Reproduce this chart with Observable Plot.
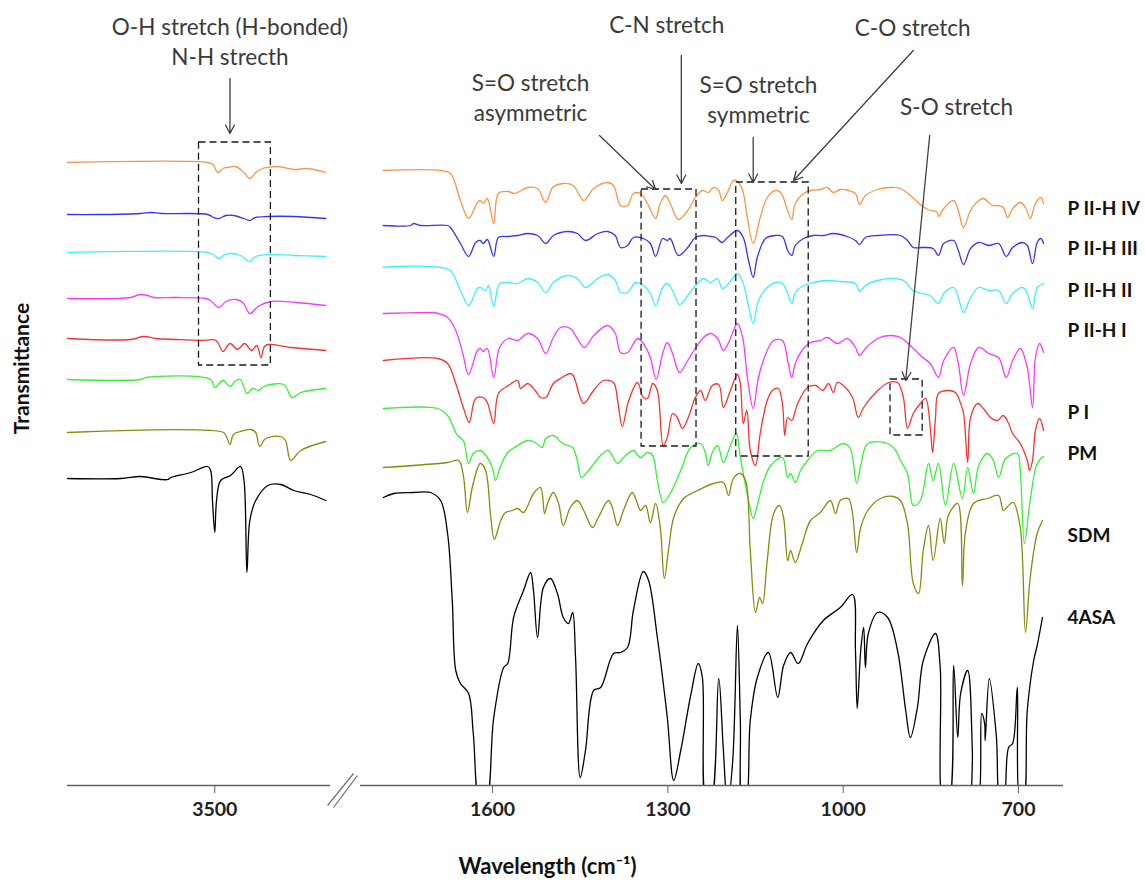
<!DOCTYPE html>
<html>
<head>
<meta charset="utf-8">
<script src="https://cdn.jsdelivr.net/npm/d3@7"></script>
<script src="https://cdn.jsdelivr.net/npm/@observablehq/plot@0.6"></script>
<style>
  html, body { margin: 0; padding: 0; background: #fff; }
</style>
</head>
<body>
<div id="chart"></div>
<script>
// ---------------- DATA ----------------
const seriesNames = ["P II-H IV", "P II-H III", "P II-H II", "P II-H I", "P I", "PM", "SDM", "4ASA"];
const seriesColors = ["#F7964A", "#3535F2", "#40F0F8", "#F53DF5", "#F53333", "#38F038", "#8A8A10", "#000000"];

// wavenumber (cm-1), transmittance (a.u., stacked) -- high-wavenumber panel
const piihIV_hi = [[3752,62.3],[3512,62.3],[3503,62.1],[3495,61.3],[3486,61.7],[3478,61.8],[3464,61.9],[3450,61.3],[3440,60.7],[3430,61.3],[3418,61.7],[3409,61.8],[3392,61.9],[3365,61.6],[3341,61.7],[3310,61.3]];
const piihIII_hi = [[3752,57.1],[3695,57.1],[3627,57.2],[3609,57.3],[3592,57.2],[3512,57.1],[3502,56.8],[3493,56.7],[3481,57.0],[3468,57.0],[3450,56.7],[3440,56.5],[3430,56.8],[3409,56.9],[3365,56.9],[3310,56.7]];
const piihII_hi = [[3752,53.3],[3512,53.3],[3503,53.1],[3493,52.7],[3483,53.1],[3473,53.2],[3456,53.0],[3447,52.6],[3440,52.4],[3430,52.9],[3409,53.1],[3365,53.0],[3310,52.9]];
const piihI_hi = [[3752,48.7],[3644,48.8],[3627,49.1],[3615,49.0],[3604,48.8],[3567,48.8],[3515,48.7],[3507,48.5],[3493,47.8],[3481,48.4],[3464,48.6],[3452,48.3],[3440,47.2],[3426,47.9],[3404,48.4],[3361,48.3],[3310,48.0]];
const pI_hi = [[3752,44.7],[3644,44.6],[3622,44.9],[3601,44.7],[3567,44.6],[3524,44.5],[3498,44.5],[3486,43.4],[3474,44.2],[3461,43.6],[3449,44.2],[3437,43.5],[3428,44.0],[3421,42.8],[3415,43.9],[3409,44.1],[3370,43.8],[3310,43.5]];
const pm_hi = [[3752,40.6],[3627,40.6],[3618,40.8],[3507,40.6],[3500,39.8],[3486,40.5],[3474,39.9],[3464,40.5],[3456,40.6],[3445,39.2],[3435,39.7],[3425,39.5],[3416,39.9],[3382,40.1],[3368,38.8],[3353,39.3],[3310,39.7]];
const sdm_hi = [[3752,35.3],[3485,35.3],[3480,34.9],[3474,34.1],[3468,35.1],[3456,35.4],[3438,35.6],[3430,35.3],[3423,33.9],[3413,34.7],[3387,34.9],[3379,34.5],[3370,32.5],[3353,33.5],[3310,34.4]];
const asa_hi = [[3752,30.7],[3661,30.7],[3627,30.9],[3592,30.6],[3580,30.6],[3575,30.8],[3541,31.3],[3512,31.9],[3507,31.5],[3504,28.5],[3500,25.3],[3497,28.5],[3490,30.5],[3473,31.0],[3456,31.9],[3450,30.5],[3445,21.3],[3440,26.5],[3430,28.5],[3409,30.0],[3387,30.1],[3365,29.5],[3336,29.1],[3310,28.5]];

// fingerprint panel
const piihIV_lo = [[1787,61.5],[1689,61.5],[1672,61.2],[1655,58.5],[1641,56.7],[1626,58.3],[1621,58.5],[1616,58.2],[1609,58.7],[1598,56.2],[1590,59.2],[1573,59.4],[1564,59.2],[1557,59.3],[1540,59.8],[1523,59.7],[1509,58.3],[1497,59.8],[1479,60.2],[1462,60.0],[1444,58.5],[1427,59.7],[1403,60.3],[1393,60.0],[1381,58.0],[1369,58.0],[1359,59.2],[1347,59.2],[1335,58.2],[1321,56.7],[1313,58.2],[1304,59.0],[1296,58.2],[1282,56.6],[1266,57.5],[1253,58.8],[1241,59.5],[1231,59.3],[1222,59.8],[1213,59.5],[1207,58.5],[1198,59.3],[1188,60.5],[1181,60.4],[1172,59.5],[1164,56.8],[1154,54.2],[1142,56.8],[1130,58.8],[1116,59.5],[1107,59.3],[1095,57.5],[1088,56.6],[1082,58.2],[1068,59.2],[1056,59.5],[1039,59.6],[1027,59.8],[1017,59.3],[1005,59.6],[991,59.5],[979,59.2],[972,58.1],[962,59.0],[941,59.6],[920,59.8],[902,59.7],[885,59.0],[864,57.9],[851,57.5],[840,57.4],[837,56.9],[828,57.7],[811,58.5],[803,57.5],[794,55.8],[782,57.5],[768,58.5],[760,58.7],[744,58.0],[736,58.0],[726,57.8],[719,56.8],[710,57.7],[697,58.3],[688,57.8],[680,56.7],[671,58.2],[662,58.8],[657,58.2]];
const piihIII_lo = [[1787,56.0],[1740,56.0],[1735,56.2],[1723,56.0],[1677,56.0],[1672,55.8],[1655,54.2],[1641,52.9],[1629,54.3],[1621,54.5],[1616,54.2],[1609,54.6],[1598,52.9],[1590,54.8],[1574,54.9],[1557,55.0],[1540,55.2],[1523,55.0],[1509,54.2],[1496,55.0],[1472,55.4],[1455,55.2],[1441,54.5],[1420,55.2],[1403,55.4],[1390,55.0],[1381,53.8],[1369,54.0],[1359,54.8],[1342,54.7],[1330,54.2],[1321,52.9],[1309,54.7],[1301,54.5],[1296,54.7],[1282,53.0],[1266,53.8],[1253,54.8],[1239,55.0],[1227,54.9],[1218,54.8],[1207,54.3],[1198,54.8],[1181,55.5],[1171,54.8],[1162,52.5],[1154,50.8],[1147,52.8],[1133,54.7],[1116,55.0],[1104,54.9],[1095,53.5],[1088,53.0],[1082,54.0],[1068,54.7],[1051,55.0],[1034,55.0],[1017,55.2],[993,54.9],[979,54.5],[972,54.1],[962,54.8],[941,55.0],[902,55.0],[890,54.5],[880,53.8],[864,53.8],[846,53.7],[837,53.0],[828,54.2],[811,54.5],[803,53.5],[794,52.1],[782,53.7],[768,54.3],[751,54.0],[734,54.2],[721,52.9],[710,53.8],[693,54.3],[685,54.0],[676,52.2],[668,54.3],[662,54.7],[657,54.2]];
const piihII_lo = [[1787,51.8],[1766,51.9],[1689,51.8],[1672,51.5],[1655,49.5],[1641,48.0],[1626,49.7],[1621,49.8],[1612,49.5],[1607,50.0],[1598,47.9],[1588,50.2],[1573,50.3],[1557,50.2],[1540,50.7],[1523,50.3],[1509,49.3],[1496,50.3],[1472,51.0],[1455,50.7],[1441,49.8],[1420,50.7],[1403,51.1],[1390,50.5],[1381,49.3],[1369,49.3],[1355,50.3],[1342,50.0],[1330,49.2],[1321,48.0],[1309,49.8],[1301,50.2],[1292,49.5],[1280,48.1],[1266,49.0],[1253,50.0],[1239,50.7],[1227,50.3],[1215,50.7],[1207,49.7],[1196,50.2],[1181,51.2],[1171,50.2],[1164,48.5],[1154,46.2],[1145,48.5],[1130,49.8],[1116,50.3],[1104,50.2],[1095,49.2],[1088,48.2],[1082,49.3],[1068,50.0],[1051,50.3],[1027,50.5],[1005,50.4],[979,50.2],[972,49.4],[962,50.0],[941,50.5],[914,50.7],[897,50.5],[880,49.5],[864,49.2],[851,49.0],[837,48.2],[828,49.2],[811,49.8],[803,48.8],[794,47.3],[782,48.8],[768,49.8],[751,49.5],[734,49.5],[721,48.2],[710,49.2],[693,49.8],[685,49.2],[676,47.7],[668,49.8],[657,50.2]];
const piihI_lo = [[1787,47.2],[1706,47.3],[1701,47.3],[1677,46.8],[1663,45.5],[1651,43.2],[1641,41.1],[1626,43.5],[1621,43.7],[1616,43.4],[1609,43.7],[1598,40.8],[1588,43.8],[1573,44.7],[1557,44.5],[1540,45.2],[1523,44.7],[1509,43.2],[1496,44.8],[1484,45.8],[1467,45.7],[1455,44.7],[1443,43.8],[1427,45.0],[1403,46.0],[1390,45.2],[1381,43.3],[1369,43.3],[1352,44.7],[1342,44.2],[1330,42.8],[1320,40.6],[1309,43.2],[1301,44.3],[1292,43.2],[1280,41.3],[1266,42.5],[1253,43.7],[1239,44.8],[1227,45.2],[1215,44.7],[1205,43.5],[1196,44.3],[1181,46.2],[1172,44.8],[1164,40.8],[1154,37.7],[1145,40.8],[1130,43.5],[1119,44.5],[1104,44.5],[1095,42.5],[1088,40.8],[1082,42.2],[1068,43.7],[1056,44.3],[1039,44.5],[1027,44.8],[1010,44.2],[993,44.7],[979,43.8],[972,43.0],[962,43.7],[941,44.7],[920,45.0],[902,44.8],[880,43.7],[864,42.8],[851,42.2],[837,40.8],[828,42.5],[811,43.8],[803,42.2],[794,39.0],[782,42.2],[768,43.8],[751,43.2],[734,42.8],[721,40.8],[710,42.5],[697,43.7],[685,41.8],[676,37.8],[671,42.8],[664,44.2],[657,43.3]];
const pI_lo = [[1787,42.5],[1694,42.7],[1677,42.2],[1663,40.2],[1650,37.8],[1640,36.3],[1629,38.7],[1616,38.8],[1609,38.3],[1598,36.2],[1590,39.2],[1573,40.0],[1557,40.5],[1552,39.7],[1540,40.2],[1527,39.5],[1518,38.8],[1509,38.8],[1496,40.2],[1484,40.7],[1467,41.2],[1462,41.0],[1450,38.8],[1444,38.2],[1427,39.5],[1410,40.5],[1393,40.3],[1386,38.5],[1378,35.9],[1367,38.5],[1352,40.3],[1342,38.8],[1335,38.7],[1326,40.2],[1318,39.5],[1308,34.0],[1301,34.8],[1292,37.2],[1284,36.8],[1275,35.7],[1265,36.8],[1253,38.8],[1244,39.5],[1236,38.5],[1224,40.0],[1213,40.1],[1205,37.8],[1193,39.5],[1181,41.1],[1176,40.2],[1171,36.2],[1165,37.5],[1159,33.5],[1150,32.0],[1142,35.2],[1130,38.5],[1121,39.5],[1111,39.7],[1104,38.2],[1100,35.0],[1095,36.8],[1088,36.5],[1078,38.2],[1061,39.8],[1047,40.0],[1035,39.5],[1025,40.2],[1017,39.3],[1010,40.3],[996,39.8],[984,38.8],[974,36.8],[965,37.8],[941,39.5],[922,40.3],[907,40.3],[897,38.8],[890,35.7],[880,37.2],[868,38.2],[859,38.7],[851,35.8],[847,33.3],[842,36.8],[837,39.2],[821,39.5],[808,39.3],[799,38.2],[794,37.2],[787,32.3],[782,36.8],[770,38.2],[760,37.7],[748,36.8],[736,36.5],[726,37.0],[717,36.2],[710,35.2],[697,34.2],[685,32.5],[681,31.5],[676,32.5],[671,35.5],[664,36.7],[657,35.5]];
const pm_lo = [[1787,37.7],[1694,37.7],[1677,37.0],[1660,35.0],[1650,34.5],[1641,32.2],[1633,33.2],[1621,33.5],[1609,32.8],[1600,31.7],[1595,30.5],[1586,32.0],[1574,33.3],[1557,34.0],[1540,34.5],[1527,34.3],[1515,33.8],[1509,34.7],[1496,35.0],[1480,34.2],[1463,33.8],[1455,32.5],[1448,30.8],[1436,31.5],[1415,33.0],[1402,33.5],[1386,32.2],[1376,32.8],[1359,33.5],[1347,32.8],[1335,33.3],[1326,33.0],[1318,30.5],[1308,28.3],[1296,29.2],[1278,31.5],[1261,33.8],[1244,34.2],[1236,33.3],[1231,32.0],[1224,33.3],[1215,34.0],[1205,32.3],[1196,33.5],[1183,35.2],[1176,32.8],[1162,28.5],[1154,26.7],[1147,28.0],[1136,30.5],[1124,32.0],[1104,32.8],[1095,30.8],[1090,31.2],[1082,30.3],[1073,31.5],[1061,32.5],[1044,33.5],[1022,33.5],[1000,34.2],[988,33.7],[977,30.2],[970,32.0],[958,34.2],[924,34.2],[910,33.5],[902,32.5],[890,31.2],[880,28.0],[868,28.5],[854,32.2],[846,30.5],[837,32.2],[825,28.0],[811,32.2],[796,28.7],[787,31.8],[777,29.2],[768,32.0],[753,33.2],[743,32.5],[734,30.8],[722,32.7],[702,33.2],[697,31.5],[690,24.2],[680,28.5],[668,32.2],[657,32.9]];
const sdm_lo = [[1787,31.8],[1677,32.3],[1658,32.5],[1650,31.0],[1643,27.3],[1634,30.0],[1621,32.2],[1612,31.5],[1603,26.8],[1597,24.6],[1586,26.5],[1578,27.3],[1566,27.5],[1557,27.7],[1547,27.3],[1530,29.2],[1518,29.8],[1511,27.2],[1506,28.2],[1496,29.3],[1487,28.2],[1479,26.0],[1467,27.8],[1455,28.5],[1444,27.5],[1429,25.8],[1419,26.8],[1402,28.5],[1395,27.8],[1386,26.0],[1376,27.5],[1361,29.3],[1352,28.2],[1347,27.5],[1338,28.0],[1330,26.3],[1321,28.2],[1313,25.8],[1306,20.7],[1299,23.5],[1290,26.8],[1273,28.7],[1249,29.5],[1222,30.2],[1205,30.3],[1196,29.0],[1188,30.7],[1176,31.2],[1167,30.5],[1159,23.5],[1150,17.3],[1143,18.8],[1138,18.2],[1130,22.5],[1119,27.2],[1109,28.0],[1102,26.8],[1095,22.5],[1090,23.5],[1082,22.3],[1070,24.2],[1056,26.5],[1039,27.3],[1022,28.5],[1013,27.2],[1005,28.5],[991,28.7],[984,27.2],[977,23.3],[970,25.8],[958,27.5],[936,28.7],[914,28.9],[902,28.5],[890,26.2],[880,20.2],[871,19.2],[863,23.5],[854,26.0],[846,22.5],[834,26.7],[827,24.2],[820,27.0],[804,28.2],[796,20.0],[791,25.2],[777,28.2],[753,28.7],[734,29.0],[726,27.5],[717,28.0],[709,28.3],[697,25.8],[688,15.3],[680,20.8],[668,25.2],[659,26.5]];
const asa_lo = [[1787,28.8],[1769,29.2],[1735,29.3],[1706,29.3],[1689,28.5],[1677,25.2],[1669,18.5],[1663,11.5],[1655,10.2],[1641,9.2],[1633,5.2],[1621,-2],[1612,-2],[1598,6.8],[1581,11.8],[1574,12.2],[1564,16.8],[1547,19.5],[1535,21.3],[1530,19.5],[1523,14.8],[1513,19.8],[1501,20.7],[1489,19.2],[1479,16.8],[1470,16.2],[1463,17.3],[1458,12.8],[1450,0.8],[1441,3.5],[1427,9.5],[1415,9.8],[1393,13.2],[1381,13.3],[1369,13.8],[1359,17.5],[1342,21.4],[1333,20.5],[1318,14.8],[1301,6.8],[1290,0.5],[1278,3.5],[1261,9.0],[1248,12.2],[1241,10.8],[1234,-2],[1227,-2],[1213,10.7],[1205,3.5],[1198,-2],[1189,2.5],[1181,16.0],[1176,6.5],[1172,-2],[1167,-2],[1159,6.5],[1147,10.8],[1128,13.3],[1112,8.8],[1102,12.0],[1090,13.3],[1077,12.2],[1061,14.2],[1034,16.5],[1005,17.8],[984,19.1],[979,13.5],[976,7.7],[970,13.5],[965,15.8],[962,11.8],[957,15.2],[941,17.3],[924,16.8],[907,13.5],[893,7.5],[885,4.8],[873,7.8],[863,12.5],[842,15.2],[834,11.8],[828,-2],[820,-2],[811,12.0],[804,4.8],[799,9.2],[787,11.5],[779,3.5],[777,-2],[770,-2],[763,7.2],[758,6.2],[757,4.5],[750,10.7],[738,5.0],[731,-2],[726,-2],[717,3.8],[710,4.2],[702,9.8],[697,-2],[692,-2],[685,7.5],[674,12.5],[668,14.0],[659,16.8]];

const xTicks = [3500, 1600, 1300, 1000, 700];

// ---------------- LAYOUT (data-space anchors) ----------------
const hiPanel = [3752, 3302];
const loPanel = [1826, 623];
const labelLevels = [57.7, 53.7, 49.5, 45.5, 37.3, 33.2, 25.0, 16.8];
const labelW = 616;

const annoTexts = [
  {text: "O-H stretch (H-bonded)", w: 3474, t: 75.8},
  {text: "N-H strecth", w: 3474, t: 72.8},
  {text: "C-N stretch", w: 1302, t: 76.0},
  {text: "S=O stretch", w: 1535, t: 70.2},
  {text: "asymmetric", w: 1535, t: 67.2},
  {text: "S=O stretch", w: 1145, t: 70.0},
  {text: "symmetric", w: 1145, t: 67.0},
  {text: "C-O stretch", w: 881, t: 75.7},
  {text: "S-O stretch", w: 806, t: 67.8}
];
const annoArrows = [
  {w1: 3474, t1: 70.7, w2: 3474, t2: 65.2},
  {w1: 1277, t1: 73.0, w2: 1277, t2: 60.2},
  {w1: 1417, t1: 65.0, w2: 1321, t2: 59.6},
  {w1: 1154, t1: 64.8, w2: 1154, t2: 60.3},
  {w1: 880, t1: 73.5, w2: 1085, t2: 60.5},
  {w1: 852, t1: 65.0, w2: 893, t2: 40.5}
];
const annoBoxes = [
  {w1: 3527, w2: 3404, t1: 64.3, t2: 42.0},
  {w1: 1345, w2: 1251, t1: 59.6, t2: 33.9},
  {w1: 1183, w2: 1059, t1: 60.3, t2: 32.9},
  {w1: 919, w2: 864, t1: 40.6, t2: 35.0}
];
const breakMarks = [
  {w1: 3307, t1: -2.0, w2: 2170, t2: 1.2},
  {w1: 3154, t1: -2.2, w2: 1974, t2: 1.0}
];

// ---------------- BUILD ----------------
const hiSets = [piihIV_hi, piihIII_hi, piihII_hi, piihI_hi, pI_hi, pm_hi, sdm_hi, asa_hi];
const loSets = [piihIV_lo, piihIII_lo, piihII_lo, piihI_lo, pI_lo, pm_lo, sdm_lo, asa_lo];
const rows = [];
seriesNames.forEach((name, i) => {
  for (const [w, t] of hiSets[i]) rows.push({series: name, key: name + "|hi", w, t});
  for (const [w, t] of loSets[i]) rows.push({series: name, key: name + "|lo", w, t});
});
const labels = seriesNames.map((name, i) => ({name, t: labelLevels[i]}));

const FONT = "Lato, 'Open Sans', sans-serif";

const chart = Plot.plot({
  width: 1145,
  height: 886,
  marginTop: 0,
  marginBottom: 101,
  marginLeft: 0,
  marginRight: 0,
  style: {fontFamily: FONT, background: "#fff", overflow: "visible"},
  x: {type: "linear", domain: [hiPanel[0], hiPanel[1], loPanel[0], loPanel[1]], range: [67, 330, 360, 1063]},
  y: {domain: [0, 78.5], axis: null},
  color: {domain: seriesNames, range: seriesColors},
  marks: [
    Plot.line(rows, {x: "w", y: "t", z: "key", stroke: "series", strokeWidth: 1.3, curve: "catmull-rom", clip: true}),
    Plot.rect(annoBoxes, {x1: "w1", x2: "w2", y1: "t1", y2: "t2", fill: "none", stroke: "#1a1a1a", strokeWidth: 1.3, strokeDasharray: "7,4"}),
    Plot.arrow(annoArrows, {x1: "w1", y1: "t1", x2: "w2", y2: "t2", stroke: "#404040", strokeWidth: 1.3, headLength: 11, headAngle: 55}),
    Plot.text(annoTexts, {x: "w", y: "t", text: "text", fontSize: 22.5, fill: "#3a3a3a", fontFamily: FONT}),
    Plot.text(labels, {x: () => labelW, y: "t", text: "name", textAnchor: "start", fontSize: 19, fontWeight: "bold", fill: "#111", fontFamily: FONT}),
    Plot.ruleY([{a: hiPanel[0], b: hiPanel[1]}, {a: loPanel[0], b: loPanel[1]}], {x1: "a", x2: "b", y: () => 0, stroke: "#606060", strokeWidth: 1.3}),
    Plot.link(breakMarks, {x1: "w1", y1: "t1", x2: "w2", y2: "t2", stroke: "#707070", strokeWidth: 1.2}),
    Plot.axisX({ticks: xTicks, tickFormat: d => String(d), tickSize: 8, tickPadding: 9, fontSize: 19.5, fontWeight: "bold", color: "#222", stroke: "#606060", label: null, fontFamily: FONT}),
    Plot.text(["Wavelength (cm\u207B\u00B9)"], {x: () => 1506, y: () => -8.1, text: d => d, fontSize: 22, fontWeight: "bold", fill: "#111", fontFamily: FONT}),
    Plot.text(["Transmittance"], {x: () => 3829, y: () => 41.7, text: d => d, rotate: -90, fontSize: 21, fontWeight: "bold", fill: "#111", fontFamily: FONT})
  ]
});
document.getElementById("chart").appendChild(chart);
</script>
</body>
</html>
